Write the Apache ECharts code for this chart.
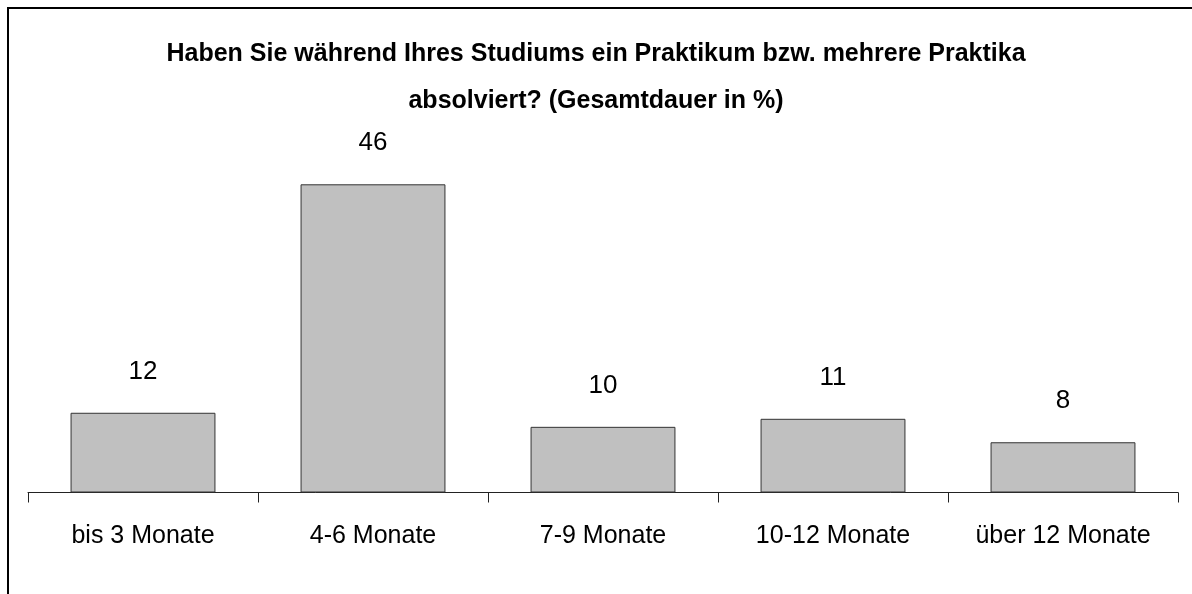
<!DOCTYPE html>
<html>
<head>
<meta charset="utf-8">
<script src="https://cdn.jsdelivr.net/npm/echarts@6/dist/echarts.min.js"></script>
<style>
html,body{margin:0;padding:0;background:#fff;}
#main{width:1192px;height:594px;}
</style>
</head>
<body>
<div id="main"></div>
<script>
// Kategorien und Werte (Gesamtdauer in %)
var categories = ['bis 3 Monate', '4-6 Monate', '7-9 Monate', '10-12 Monate', 'über 12 Monate'];
var values = [11.9, 46, 9.8, 11, 7.5];

var chart = echarts.init(document.getElementById('main'));
var option = {
    animation: false,
    backgroundColor: '#fff',
    title: {
        text: 'Haben Sie während Ihres Studiums ein Praktikum bzw. mehrere Praktika\nabsolviert? (Gesamtdauer in %)',
        left: 'center',
        top: 26,
        textStyle: {
            fontFamily: 'Liberation Sans, Arial',
            fontWeight: 'bold',
            fontSize: 25,
            lineHeight: 47,
            color: '#000'
        }
    },
    graphic: [{
        type: 'rect',
        shape: {x: 8, y: 8, width: 1300, height: 700},
        style: {fill: 'none', stroke: '#000', lineWidth: 2}
    }],
    grid: {left: 28, right: 14, top: 157.5, bottom: 101.5},
    xAxis: {
        type: 'category',
        data: categories,
        axisLine: {lineStyle: {color: '#222', width: 1}},
        axisTick: {show: true, interval: 0, length: 10, lineStyle: {color: '#222'}},
        axisLabel: {
            interval: 0,
            margin: 31,
            color: '#000',
            fontSize: 25,
            fontFamily: 'Liberation Sans, Arial'
        }
    },
    yAxis: {
        type: 'value',
        min: 0,
        max: 50,
        show: false,
        splitLine: {show: false}
    },
    series: [{
        type: 'bar',
        data: values,
        barCategoryGap: '37%',
        itemStyle: {color: '#c0c0c0', borderColor: '#333', borderWidth: 1},
        label: {
            show: true,
            position: 'top',
            distance: 28,
            color: '#000',
            fontSize: 26,
            fontFamily: 'Liberation Sans, Arial',
            formatter: function (p) { return Math.round(p.value); }
        }
    }]
};
chart.setOption(option);
</script>
</body>
</html>
